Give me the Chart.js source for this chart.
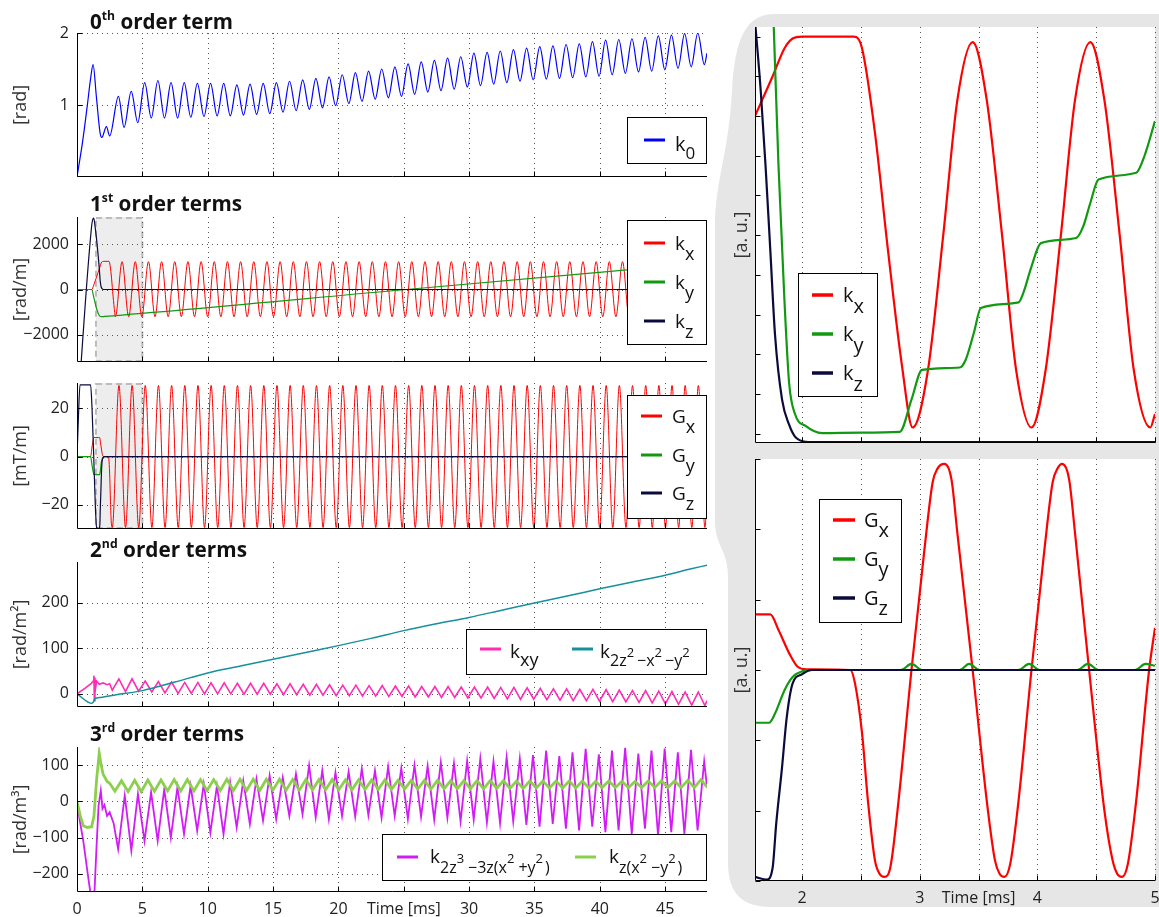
<!DOCTYPE html>
<html>
<head>
<meta charset="utf-8">
<title>Gradient and k-coefficients</title>
<script src="https://cdn.jsdelivr.net/npm/chart.js@4.4.1/dist/chart.umd.min.js"></script>
<style>
  html, body { margin: 0; padding: 0; background: #fff; }
  #fig { position: relative; width: 1159px; height: 917px; overflow: hidden; }
  #fig canvas { position: absolute; left: 0; top: 0; }
</style>
</head>
<body>
<div id="fig">
  <canvas id="bg" width="1159" height="917"></canvas>
  <canvas id="p1" width="1159" height="917"></canvas>
  <canvas id="p2" width="1159" height="917"></canvas>
  <canvas id="p3" width="1159" height="917"></canvas>
  <canvas id="p4" width="1159" height="917"></canvas>
  <canvas id="p5" width="1159" height="917"></canvas>
  <canvas id="r1" width="1159" height="917"></canvas>
  <canvas id="r2" width="1159" height="917"></canvas>
</div>
<script>
// ---- data (time in ms) ----
const P = 1.0075;            // readout cycle length, ms
const timeTicks = [0, 5, 10, 15, 20, 25, 30, 35, 40, 45];
const zoomTicks = [2, 3, 3.5, 4, 5];

// 0th order
const k0StartT = [0, 0.42, 0.78, 1.05, 1.23, 1.48, 1.76, 1.9, 2.25, 2.5, 3.17, 3.6, 4.15, 4.65];
const k0StartV = [0, 0.48, 0.98, 1.38, 1.56, 1.12, 0.62, 0.55, 0.70, 0.57, 1.12, 0.69, 1.19, 0.755];
const k0Peaks = [1.31, 1.34, 1.31, 1.31, 1.30, 1.30, 1.30, 1.28, 1.29, 1.30,
                 1.31, 1.33, 1.35, 1.37, 1.39, 1.42, 1.45, 1.47, 1.50, 1.53,
                 1.57, 1.60, 1.62, 1.65, 1.67, 1.72, 1.73, 1.75, 1.77, 1.79,
                 1.81, 1.82, 1.84, 1.85, 1.88, 1.90, 1.91, 1.92, 1.94, 1.96,
                 1.97, 1.99, 2.00];
const k0Troughs = [0.82, 0.82, 0.82, 0.83, 0.84, 0.85, 0.85, 0.86, 0.87, 0.88,
                   0.90, 0.92, 0.94, 0.96, 0.99, 1.02, 1.05, 1.08, 1.10, 1.12,
                   1.15, 1.18, 1.20, 1.22, 1.25, 1.27, 1.29, 1.31, 1.33, 1.35,
                   1.36, 1.37, 1.38, 1.39, 1.40, 1.42, 1.44, 1.46, 1.47, 1.49,
                   1.51, 1.53, 1.56];
const k0EndT = [48.2];
const k0EndV = [1.72];

// 1st order k
const kxStartT = [0, 1.12, 1.2, 1.3, 1.62, 1.75, 1.85, 1.95, 2.05, 2.44, 2.5, 2.62, 2.73, 2.85, 2.94];
const kxStartV = [0, 0, 60, 230, 760, 990, 1170, 1235, 1243, 1243, 1170, 640, -100, -830, -1200];
const kxPeaks = [1230, 1230, 1230, 1230, 1230, 1230, 1230, 1230, 1230, 1230,
                 1230, 1230, 1230, 1230, 1230, 1230, 1230, 1230, 1230, 1230,
                 1230, 1230, 1230, 1230, 1230, 1230, 1230, 1230, 1230, 1230,
                 1230, 1230, 1230, 1230, 1230, 1230, 1230, 1230, 1230, 1230,
                 1230, 1230, 1230, 1230, 1230];
const kxTroughs = [-1200, -1200, -1200, -1200, -1200, -1200, -1200, -1200, -1200, -1200,
                   -1200, -1200, -1200, -1200, -1200, -1200, -1200, -1200, -1200, -1200,
                   -1200, -1200, -1200, -1200, -1200, -1200, -1200, -1200, -1200, -1200,
                   -1200, -1200, -1200, -1200, -1200, -1200, -1200, -1200, -1200, -1200,
                   -1200, -1200, -1200, -1200];
const kxEndT = [48.2];
const kxEndV = [-1050];
const kyT = [0, 1.12, 1.3, 1.5, 1.7, 1.85, 2.1, 25.2, 48.2];
const kyV = [0, 0, -380, -850, -1150, -1200, -1190, 0, 1180];
const kzT = [0, 1.12, 1.2, 1.28, 1.4, 1.5, 1.62, 1.69, 1.77, 1.83, 1.9, 2.03, 48.2];
const kzV = [-5800, 2800, 3080, 3150, 2700, 2200, 1500, 1040, 410, 160, 50, 0, 0];

// 1st order G
const gxStartT = [0, 1.04, 1.15, 1.3, 1.63, 1.73, 1.80, 1.89, 1.96, 2.04, 2.41, 2.45, 2.51, 2.56, 2.62, 2.66, 2.70];
const gxStartV = [0, 0, 4, 7.9, 7.9, 7.9, 5.7, 2.4, 0.5, 0, 0, -1.9, -9, -18.6, -27.1, -29, -29.4];
const gxPeaks = [29.5, 29.5, 29.5, 29.5, 29.5, 29.5, 29.5, 29.5, 29.5, 29.5,
                 29.5, 29.5, 29.5, 29.5, 29.5, 29.5, 29.5, 29.5, 29.5, 29.5,
                 29.5, 29.5, 29.5, 29.5, 29.5, 29.5, 29.5, 29.5, 29.5, 29.5,
                 29.5, 29.5, 29.5, 29.5, 29.5, 29.5, 29.5, 29.5, 29.5, 29.5,
                 29.5, 29.5, 29.5, 29.5, 29.5];
const gxTroughs = [-29.4, -29.4, -29.4, -29.4, -29.4, -29.4, -29.4, -29.4, -29.4, -29.4,
                   -29.4, -29.4, -29.4, -29.4, -29.4, -29.4, -29.4, -29.4, -29.4, -29.4,
                   -29.4, -29.4, -29.4, -29.4, -29.4, -29.4, -29.4, -29.4, -29.4, -29.4,
                   -29.4, -29.4, -29.4, -29.4, -29.4, -29.4, -29.4, -29.4, -29.4, -29.4,
                   -29.4, -29.4, -29.4, -29.4, -29.4];
const gxEndT = [48.2];
const gxEndV = [-16];
const gyT = [0, 1.04, 1.15, 1.3, 1.63, 1.72, 1.78, 1.85, 1.93, 2.0, 2.1, 48.2];
const gyV = [0, 0, -3.5, -7.5, -7.5, -7.5, -6.2, -2.9, -1, -0.2, 0, 0];
const gzT = [0, 0.1, 0.23, 1.04, 1.15, 1.28, 1.4, 1.5, 1.70, 1.75, 1.78, 1.83, 1.87, 1.92, 2.0, 2.08, 48.2];
const gzV = [0, 15, 29.7, 29.7, 20, 0, -20, -29.4, -29.8, -28.1, -21.9, -13.8, -6.7, -1.9, -0.6, 0, 0];

// 2nd order
const kxyStartT = [0, 0.6, 1.1, 1.25, 1.29, 1.33, 1.37, 1.42, 1.5, 1.7, 2.0, 2.3, 2.5];
const kxyStartV = [0, 12, 23, 28, 40, -15, 36, 12, 28, 21, 24, 20, 22];
const kxyTroughs = [8, 5, 6, 4, 2, 1, 1, 0, 0, 0,
                    -1, -1, -1, -2, -2, -3, -3, -4, -4, -5,
                    -5, -6, -6, -7, -7, -8, -8, -9, -9, -10,
                    -11, -12, -12, -13, -14, -15, -15, -16, -17, -18,
                    -19, -20, -22, -23, -25, -26];
const kxyPeaks = [33, 33, 28, 27, 26, 25, 25, 24, 24, 23,
                  23, 23, 22, 22, 21, 21, 20, 19, 19, 18,
                  18, 17, 17, 16, 16, 16, 15, 15, 15, 14,
                  14, 13, 12, 11, 11, 10, 10, 9, 8, 7,
                  7, 6, 5, 4, 4];
const kxyEndT = [48.2];
const kxyEndV = [-15];
const k2zT = [0, 1.15, 1.3, 1.35, 1.8, 3, 5, 7.5, 10, 12.5, 15, 17.5, 20, 22.5, 25, 27.5, 30, 32.5, 35, 37.5, 40, 42.5, 45, 47, 48.2];
const k2zV = [0, -21, -15, -11, -8, -2, 7, 26, 46, 61, 76, 91, 106, 122, 139, 154, 168, 184, 200, 215, 231, 246, 261, 275, 283];

// 3rd order
const kzxyStartT = [0, 0.25, 0.48, 0.8, 1.12, 1.3, 1.5, 1.7, 1.85, 2.0, 2.3, 2.5];
const kzxyStartV = [0, -40, -67, -72, -70, -40, 60, 133, 100, 75, 55, 50];
const kzxyTroughs = [28, 27, 27, 28, 29, 29, 29, 30, 30, 30,
                     30, 30, 31, 31, 31, 32, 32, 32, 32, 33,
                     33, 33, 34, 34, 34, 35, 35, 35, 35, 36,
                     36, 36, 37, 37, 37, 37, 37, 38, 38, 38,
                     38, 38, 38, 38, 38, 38];
const kzxyPeaks = [57, 58, 59, 59, 60, 60, 60, 60, 61, 61,
                   61, 61, 61, 60, 60, 60, 60, 59, 59, 59,
                   59, 58, 58, 58, 58, 57, 57, 57, 57, 57,
                   56, 56, 56, 56, 56, 56, 55, 56, 55, 55,
                   56, 57, 56, 58, 60];
const k3StartT = [0, 0.2, 0.48, 0.86, 1.0, 1.15, 1.33, 1.5, 1.65, 1.82, 1.95, 2.1, 2.3, 2.5, 2.8];
const k3StartV = [0, -50, -109, -210, -245, -262, -255, -120, -12, 30, -20, -10, -40, -30, -60];
const k3Troughs = [-132, -136, -109, -109, -100, -90, -81, -86, -90, -72,
                   -63, -53, -49, -40, -35, -44, -49, -40, -42, -38,
                   -45, -40, -48, -42, -50, -45, -55, -50, -58, -60,
                   -55, -65, -70, -62, -75, -80, -70, -85, -80, -90,
                   -75, -95, -85, -90, -80];
const k3Peaks = [16, 20, 25, 34, 39, 43, 48, 43, 53, 57,
                 62, 71, 66, 76, 99, 85, 80, 82, 90, 85,
                 95, 92, 100, 98, 108, 105, 112, 118, 110, 122,
                 118, 128, 140, 125, 135, 145, 130, 140, 148, 132,
                 140, 146, 135, 142, 110];
const k3EndT = [48.2];
const k3EndV = [40];

// zoomed k (a.u.)
const kxZT = [1.60, 1.75, 1.85, 1.92, 2.0, 2.44, 2.51, 2.62, 2.73, 2.85, 2.94, 3.07, 3.2, 3.32, 3.45, 3.57, 3.7, 3.82, 3.95, 4.07, 4.2, 4.32, 4.45, 4.57, 4.7, 4.82, 4.96, 5.0];
const kxZV = [8.0, 9.0, 9.7, 9.95, 10.0, 10.0, 9.7, 7.57, 4.63, 1.7, 0.16, 1.6, 5.0, 8.4, 9.86, 8.4, 5.0, 1.6, 0.16, 1.6, 5.0, 8.4, 9.86, 8.4, 5.0, 1.6, 0.16, 0.5];
const kyZT = [1.60, 1.76, 1.80, 1.85, 1.89, 1.94, 2.03, 2.17, 2.5, 2.83, 2.93, 3.02, 3.34, 3.39, 3.46, 3.52, 3.84, 3.88, 3.95, 4.03, 4.33, 4.39, 4.45, 4.52, 4.84, 4.91, 5.0];
const kyZV = [24, 10.2, 6.73, 3.38, 1.28, 0.5, 0.2, 0.02, 0.03, 0.05, 0.86, 1.61, 1.67, 1.86, 2.54, 3.17, 3.31, 3.54, 4.21, 4.8, 4.93, 5.22, 5.81, 6.4, 6.57, 6.99, 7.87];
const kzZT = [1.60, 1.65, 1.69, 1.73, 1.77, 1.83, 1.89, 1.94, 2.03, 2.15, 5.0];
const kzZV = [10.4, 8.58, 6.73, 4.63, 2.5, 0.86, 0.23, -0.07, -0.2, -0.21, -0.21];

// zoomed G (a.u.)
const gxZT = [1.60, 1.73, 1.80, 1.89, 1.96, 2.04, 2.41, 2.45, 2.51, 2.56, 2.62, 2.66, 2.70, 2.75, 2.82, 2.93, 3.04, 3.11, 3.15, 3.21, 3.27, 3.32, 3.45, 3.58, 3.64, 3.68, 3.72, 3.77, 3.84, 3.95, 4.06, 4.13, 4.17, 4.21, 4.27, 4.32, 4.44, 4.57, 4.64, 4.68, 4.72, 4.77, 4.84, 4.95, 5.0];
const gxZV = [0.79, 0.79, 0.57, 0.24, 0.05, 0.01, 0, -0.19, -0.9, -1.86, -2.71, -2.9, -2.94, -2.81, -1.86, 0, 1.71, 2.67, 2.86, 2.93, 2.71, 1.95, 0, -2.0, -2.71, -2.9, -2.94, -2.75, -1.86, 0, 1.71, 2.67, 2.86, 2.93, 2.71, 1.95, 0, -2.0, -2.71, -2.9, -2.94, -2.75, -1.86, 0, 0.6];
const gyZT = [1.60, 1.72, 1.77, 1.85, 1.92, 2.0, 2.1, 2.84, 2.93, 3.02, 3.34, 3.42, 3.51, 3.84, 3.93, 4.02, 4.34, 4.43, 4.52, 4.83, 4.92, 5.0];
const gyZV = [-0.75, -0.75, -0.62, -0.29, -0.1, -0.02, 0, 0, 0.086, 0, 0, 0.086, 0, 0, 0.086, 0, 0, 0.086, 0, 0, 0.086, 0.06];
const gzZT = [1.60, 1.70, 1.75, 1.78, 1.83, 1.87, 1.92, 2.0, 2.08, 5.0];
const gzZV = [-2.94, -2.98, -2.81, -2.19, -1.38, -0.67, -0.19, -0.06, 0, 0];

// ---- helpers ----
const FONT = "'Open Sans', 'Noto Sans', sans-serif";
const RED = '#ff0000', GREEN = '#119911', NAVY = '#0b0b3b', BLUE = '#0000ff';
const PINK = '#ff2db4', TEAL = '#16909c', PURPLE = '#d21cf5', LIME = '#8ccf4d';

function pts(ts, vs) { return ts.map((t, i) => ({ x: t, y: vs[i] })); }
// alternate extremes: first[i] at t0 + i*P, second[i] half a cycle later
function alt(t0, first, second) {
  const out = [];
  first.forEach((v, i) => {
    out.push({ x: t0 + i * P, y: v });
    if (i < second.length) out.push({ x: t0 + i * P + P / 2, y: second[i] });
  });
  return out;
}
function line(data, color, width, smooth) {
  return { data, borderColor: color, borderWidth: width, pointRadius: 0, fill: false,
           cubicInterpolationMode: smooth ? 'monotone' : 'default', tension: 0 };
}
function fmt(v) { return v < 0 ? '\u2212' + Math.abs(v) : String(v); }

function drawLegend(ctx, L) {
  const [x0, y0, x1, y1] = L.box;
  ctx.save();
  ctx.fillStyle = '#fff';
  ctx.fillRect(x0, y0, x1 - x0, y1 - y0);
  ctx.strokeStyle = '#000'; ctx.lineWidth = 1;
  ctx.strokeRect(x0 + 0.5, y0 + 0.5, x1 - x0 - 1, y1 - y0 - 1);
  L.items.forEach(it => {
    ctx.strokeStyle = it.color; ctx.lineWidth = L.lw;
    ctx.beginPath(); ctx.moveTo(it.x0, it.y); ctx.lineTo(it.x1, it.y); ctx.stroke();
    let x = it.tx;
    ctx.fillStyle = '#111'; ctx.textAlign = 'left'; ctx.textBaseline = 'alphabetic';
    it.segs.forEach(([t, size, dy, gap]) => {
      ctx.font = size + 'px ' + FONT;
      ctx.fillText(t, x, it.y + dy);
      x += ctx.measureText(t).width + (gap || 0);
    });
  });
  ctx.restore();
}

function drawTitle(ctx, T) {
  const parts = [[T.n, 22, 0], [T.sup, 13, -9], [T.rest, 22, 0]];
  ctx.save();
  ctx.fillStyle = '#111'; ctx.textAlign = 'left'; ctx.textBaseline = 'alphabetic';
  let w = 0;
  parts.forEach(([t, s]) => { ctx.font = 'bold ' + s + 'px ' + FONT; w += ctx.measureText(t).width; });
  ctx.translate(T.x, T.y);
  ctx.scale(T.w / w, 1);
  let x = 0;
  parts.forEach(([t, s, dy]) => {
    ctx.font = 'bold ' + s + 'px ' + FONT;
    ctx.fillText(t, x, dy);
    x += ctx.measureText(t).width;
  });
  ctx.restore();
}

function frame(c) {
  return {
    id: 'frame',
    beforeDraw(chart) {
      const { ctx, chartArea: a } = chart;
      const sx = chart.scales.x, sy = chart.scales.y;
      ctx.save();
      if (c.white) {
        ctx.fillStyle = '#fff';
        ctx.fillRect(a.left, a.top, a.right - a.left, a.bottom - a.top);
      }
      if (c.shade) {
        const x0 = sx.getPixelForValue(c.shade[0]), x1 = sx.getPixelForValue(c.shade[1]);
        ctx.fillStyle = '#ededed';
        ctx.fillRect(x0, a.top, x1 - x0, a.bottom - a.top);
        ctx.strokeStyle = '#bbbbbb'; ctx.lineWidth = 2; ctx.setLineDash([6, 4]);
        ctx.strokeRect(x0, a.top + 1, x1 - x0, a.bottom - a.top - 2);
      }
      ctx.strokeStyle = '#555'; ctx.lineWidth = 1; ctx.setLineDash([1, 4]);
      ctx.beginPath();
      c.xGrid.forEach(v => {
        const p = Math.round(sx.getPixelForValue(v)) + 0.5;
        ctx.moveTo(p, a.top); ctx.lineTo(p, a.bottom);
      });
      (c.yGrid || []).forEach(v => {
        const p = Math.round(sy.getPixelForValue(v)) + 0.5;
        ctx.moveTo(a.left, p); ctx.lineTo(a.right, p);
      });
      ctx.stroke();
      ctx.restore();
    },
    afterDatasetsDraw(chart) {
      const { ctx, chartArea: a } = chart;
      const sx = chart.scales.x, sy = chart.scales.y;
      const L = Math.floor(a.left) + 0.5, B = Math.round(a.bottom) - 0.5;
      ctx.save();
      ctx.strokeStyle = '#000'; ctx.lineWidth = 1;
      ctx.beginPath();
      ctx.moveTo(L, a.top); ctx.lineTo(L, B); ctx.lineTo(a.right, B);
      c.xGrid.forEach(v => {
        const p = Math.round(sx.getPixelForValue(v)) + 0.5;
        ctx.moveTo(p, B); ctx.lineTo(p, B - 5);
      });
      c.yMarks.forEach(v => {
        const p = Math.round(sy.getPixelForValue(v)) + 0.5;
        ctx.moveTo(L, p); ctx.lineTo(L + 5, p);
      });
      ctx.stroke();
      ctx.restore();
    },
    afterDraw(chart) {
      if (c.legend) drawLegend(chart.ctx, c.legend);
      if (c.title) drawTitle(chart.ctx, c.title);
    }
  };
}

function panel(id, c) {
  const [pl, pt, pr, pb] = c.plot;
  const tickFont = { family: FONT, size: 16 };
  return new Chart(document.getElementById(id), {
    type: 'line',
    data: { datasets: c.datasets },
    options: {
      responsive: false, animation: false, events: [], devicePixelRatio: 1,
      layout: { padding: { left: pl - c.axisW, top: pt, right: 1159 - pr, bottom: 917 - pb - c.xH } },
      plugins: { legend: { display: false }, tooltip: { enabled: false } },
      scales: {
        x: {
          type: 'linear', min: c.x[0], max: c.x[1],
          grid: { display: false, drawTicks: false }, border: { display: false },
          ticks: { display: !!c.xLabels, font: tickFont, color: '#222', padding: 8,
                   autoSkip: false, maxRotation: 0,
                   callback: v => (v === c.timeAt ? 'Time [ms]' : String(v)) },
          afterBuildTicks: s => { if (c.xLabels) s.ticks = c.xLabels.map(v => ({ value: v })); },
          afterFit: s => { s.height = c.xH; s.paddingLeft = 0; s.paddingRight = 0; }
        },
        y: {
          type: 'linear', min: c.y[0], max: c.y[1],
          grid: { display: false, drawTicks: false }, border: { display: false },
          ticks: { display: !!c.yLabels, font: tickFont, color: '#222', padding: 8,
                   autoSkip: false, callback: v => fmt(v) },
          afterBuildTicks: s => { s.ticks = (c.yLabels || c.yMarks).map(v => ({ value: v })); },
          afterFit: s => { s.width = c.axisW; s.paddingTop = 0; s.paddingBottom = 0; },
          title: { display: true, text: c.yTitle, color: '#333', padding: 0,
                   font: { family: FONT, size: 18 } }
        }
      }
    },
    plugins: [frame(c)]
  });
}

// ---- grey backdrop behind the zoomed panels ----
(function () {
  const ctx = document.getElementById('bg').getContext('2d');
  ctx.fillStyle = '#e6e6e6';
  ctx.beginPath();
  ctx.moveTo(1159, 14);
  ctx.lineTo(775, 14);
  ctx.bezierCurveTo(745, 14, 735, 40, 732, 90);
  ctx.bezierCurveTo(729, 150, 717, 175, 715, 220);
  ctx.lineTo(715, 520);
  ctx.bezierCurveTo(715, 548, 728, 548, 728, 578);
  ctx.lineTo(728, 862);
  ctx.bezierCurveTo(728, 894, 742, 907, 772, 907);
  ctx.lineTo(1159, 907);
  ctx.closePath();
  ctx.fill();
})();

const xGridMain = [5, 10, 15, 20, 25, 30, 35, 40, 45];
const xGridZoom = [2, 2.5, 3, 3.5, 4, 4.5, 5];

panel('p1', {
  plot: [77, 33, 707, 177], x: [0, 48.2], y: [0, 2], axisW: 67, xH: 0,
  yLabels: [1, 2], yMarks: [1, 2], yGrid: [1, 2], xGrid: xGridMain, yTitle: '[rad]',
  title: { n: '0', sup: 'th', rest: ' order term', x: 90, y: 29, w: 143 },
  legend: { box: [627, 117, 707, 164], lw: 3, items: [
    { color: BLUE, y: 140, x0: 644, x1: 665, tx: 675, segs: [['k', 20, 11], ['0', 17, 19]] }] },
  datasets: [line(pts(k0StartT, k0StartV).concat(alt(5.18, k0Peaks, k0Troughs), pts(k0EndT, k0EndV)), BLUE, 1.2, true)]
});

panel('p2', {
  plot: [77, 217, 707, 362], x: [0, 48.2], y: [-3200, 3200], axisW: 67, xH: 0,
  yLabels: [-2000, 0, 2000], yMarks: [-2000, 0, 2000], yGrid: [-2000, 0, 2000], xGrid: xGridMain,
  yTitle: '[rad/m]', shade: [1.45, 5.0],
  title: { n: '1', sup: 'st', rest: ' order terms', x: 90, y: 211, w: 152 },
  legend: { box: [627, 220, 707, 345], lw: 3, items: [
    { color: RED, y: 243, x0: 644, x1: 665, tx: 675, segs: [['k', 19, 6.5], ['x', 18, 17]] },
    { color: GREEN, y: 282, x0: 644, x1: 665, tx: 675, segs: [['k', 19, 6.5], ['y', 18, 17]] },
    { color: NAVY, y: 321, x0: 644, x1: 665, tx: 675, segs: [['k', 19, 6.5], ['z', 18, 17]] }] },
  datasets: [
    line(pts(kzT, kzV), NAVY, 1.2, true),
    line(pts(kyT, kyV), GREEN, 1.2, true),
    line(pts(kxStartT, kxStartV).concat(alt(3.45, kxPeaks, kxTroughs), pts(kxEndT, kxEndV)), RED, 1, true)
  ]
});

panel('p3', {
  plot: [77, 383, 707, 529], x: [0, 48.2], y: [-30, 30.5], axisW: 67, xH: 0,
  yLabels: [-20, 0, 20], yMarks: [-20, 0, 20], yGrid: [-20, 0, 20], xGrid: xGridMain,
  yTitle: '[mT/m]', shade: [1.45, 5.0],
  legend: { box: [627, 395, 707, 519], lw: 3, items: [
    { color: RED, y: 416, x0: 641, x1: 662, tx: 672, segs: [['G', 19, 6.5], ['x', 18, 17]] },
    { color: GREEN, y: 455, x0: 641, x1: 662, tx: 672, segs: [['G', 19, 6.5], ['y', 18, 17]] },
    { color: NAVY, y: 493, x0: 641, x1: 662, tx: 672, segs: [['G', 19, 6.5], ['z', 18, 17]] }] },
  datasets: [
    line(pts(gzT, gzV), NAVY, 1.2, true),
    line(pts(gyT, gyV), GREEN, 1.2, true),
    line(pts(gxStartT, gxStartV).concat(alt(3.21, gxPeaks, gxTroughs), pts(gxEndT, gxEndV)), RED, 1, true)
  ]
});

panel('p4', {
  plot: [77, 562, 707, 707], x: [0, 48.2], y: [-29, 290], axisW: 67, xH: 0,
  yLabels: [0, 100, 200], yMarks: [0, 100, 200], yGrid: [0, 100, 200], xGrid: xGridMain,
  yTitle: '[rad/m\u00b2]',
  title: { n: '2', sup: 'nd', rest: ' order terms', x: 90, y: 557, w: 157 },
  legend: { box: [466, 629, 707, 675], lw: 3, items: [
    { color: PINK, y: 649, x0: 480, x1: 501, tx: 510, segs: [['k', 19, 8.5], ['xy', 18, 17]] },
    { color: TEAL, y: 649, x0: 572, x1: 593, tx: 600,
      segs: [['k', 19, 8.5], ['2z', 16, 17], ['2', 13, 8, 3], ['\u2212x', 16, 17], ['2', 13, 8, 3], ['\u2212y', 16, 17], ['2', 13, 8]] }] },
  datasets: [
    line(pts(k2zT, k2zV), TEAL, 1.5, true),
    line(pts(kxyStartT, kxyStartV).concat(alt(2.7, kxyTroughs, kxyPeaks), pts(kxyEndT, kxyEndV)), PINK, 1.6, false)
  ]
});

panel('p5', {
  plot: [77, 747, 707, 892], x: [0, 48.2], y: [-250, 150], axisW: 67, xH: 25,
  yLabels: [-200, -100, 0, 100], yMarks: [-200, -100, 0, 100], yGrid: [-200, -100, 0, 100], xGrid: xGridMain,
  xLabels: timeTicks, timeAt: 25, yTitle: '[rad/m\u00b3]',
  title: { n: '3', sup: 'rd', rest: ' order terms', x: 90, y: 741, w: 154 },
  legend: { box: [382, 834, 707, 881], lw: 3, items: [
    { color: PURPLE, y: 857, x0: 397, x1: 418, tx: 430,
      segs: [['k', 19, 6], ['2z', 16, 16], ['3', 13, 6, 4], ['\u22123z(x', 16, 16], ['2', 13, 6, 4], ['+y', 16, 16], ['2', 13, 6, 2], [')', 16, 16]] },
    { color: LIME, y: 857, x0: 575, x1: 596, tx: 609,
      segs: [['k', 19, 6], ['z(x', 16, 16], ['2', 13, 6, 4], ['\u2212y', 16, 16], ['2', 13, 6, 2], [')', 16, 16]] }] },
  datasets: [
    line(pts(kzxyStartT, kzxyStartV).concat(alt(2.9, kzxyTroughs, kzxyPeaks)), LIME, 2.8, false),
    line(pts(k3StartT, k3StartV).concat(alt(3.15, k3Troughs, k3Peaks), pts(k3EndT, k3EndV)), PURPLE, 1.8, false)
  ]
});

panel('r1', {
  plot: [755, 27, 1155, 443], x: [1.6, 5.0], y: [-0.23, 10.24], axisW: 24, xH: 0, white: true,
  yMarks: [0, 1, 2, 3, 4, 5, 6, 7, 8, 9, 10], xGrid: xGridZoom, yTitle: '[a. u.]',
  legend: { box: [798, 273, 878, 397], lw: 3.5, items: [
    { color: RED, y: 295, x0: 812, x1: 833, tx: 843, segs: [['k', 20, 7], ['x', 20, 18]] },
    { color: GREEN, y: 334, x0: 812, x1: 833, tx: 843, segs: [['k', 20, 7], ['y', 20, 18]] },
    { color: NAVY, y: 373, x0: 812, x1: 833, tx: 843, segs: [['k', 20, 7], ['z', 20, 18]] }] },
  datasets: [
    line(pts(kzZT, kzZV), NAVY, 2.2, true),
    line(pts(kyZT, kyZV), GREEN, 2.2, true),
    line(pts(kxZT, kxZV), RED, 2.2, true)
  ]
});

panel('r2', {
  plot: [755, 459, 1155, 881], x: [1.6, 5.0], y: [-3, 3], axisW: 24, xH: 25, white: true,
  yMarks: [-3, -2, -1, 0, 1, 2, 3], xGrid: xGridZoom, xLabels: zoomTicks, timeAt: 3.5, yTitle: '[a. u.]',
  legend: { box: [819, 499, 902, 623], lw: 3.5, items: [
    { color: RED, y: 520, x0: 833, x1: 855, tx: 864, segs: [['G', 20, 6.7], ['x', 20, 17]] },
    { color: GREEN, y: 559, x0: 833, x1: 855, tx: 864, segs: [['G', 20, 6.7], ['y', 20, 17]] },
    { color: NAVY, y: 598, x0: 833, x1: 855, tx: 864, segs: [['G', 20, 6.7], ['z', 20, 17]] }] },
  datasets: [
    line(pts(gzZT, gzZV), NAVY, 2.2, true),
    line(pts(gyZT, gyZV), GREEN, 2.2, true),
    line(pts(gxZT, gxZV), RED, 2.2, true)
  ]
});
</script>
</body>
</html>
